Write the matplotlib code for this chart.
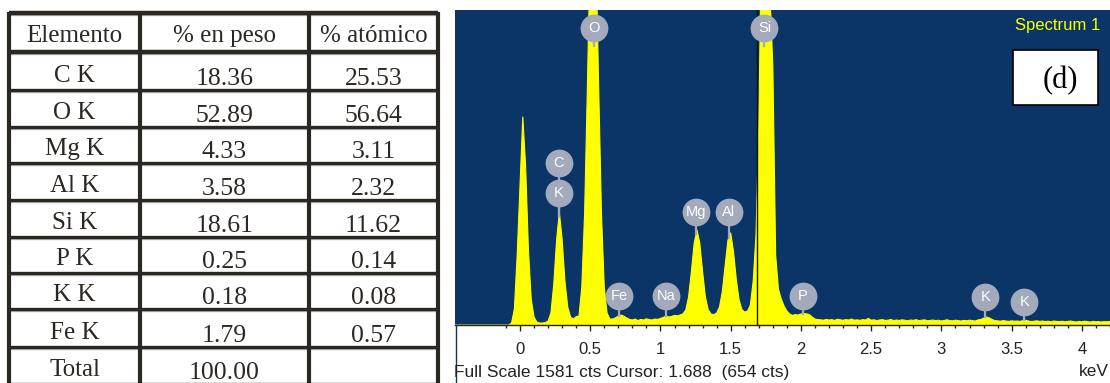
import matplotlib.pyplot as plt
from matplotlib.lines import Line2D
from matplotlib.patches import Rectangle
import numpy as np

plt.rcParams['font.family'] = ['Liberation Sans', 'DejaVu Sans']

# --- tabla de composicion ---
header = ['Elemento', '% en peso', '% atómico']
elements = ['C K', 'O K', 'Mg K', 'Al K', 'Si K', 'P K', 'K K', 'Fe K']
weight_pct = [18.36, 52.89, 4.33, 3.58, 18.61, 0.25, 0.18, 1.79]
atomic_pct = [25.53, 56.64, 3.11, 2.32, 11.62, 0.14, 0.08, 0.57]
total_weight = 100.00

# --- espectro EDS (cuentas por canal, 20 eV/canal desde -0.46 keV) ---
kev_offset = -0.46
kev_per_channel = 0.02
counts = [
    0, 0, 0, 0, 0, 0, 0, 0, 0, 0,
    0, 0, 0, 0, 0, 0, 0, 0, 0, 0,
    10, 80, 350, 700, 1044, 800, 380, 130, 40, 15,
    10, 10, 12, 20, 60, 200, 420, 567, 430, 220,
    90, 40, 30, 42, 45, 190, 560, 1200, 1900, 2200,
    1900, 1200, 560, 190, 60, 30, 30, 36, 45, 50,
    44, 35, 28, 25, 30, 22, 28, 25, 31, 27,
    25, 30, 28, 33, 38, 46, 40, 43, 48, 46,
    50, 56, 75, 140, 267, 411, 477, 411, 267, 140,
    77, 55, 52, 60, 90, 166, 298, 425, 462, 368,
    228, 125, 77, 65, 70, 100, 220, 450, 1000, 2000,
    2500, 2300, 1650, 1300, 350, 180, 130, 95, 70, 55,
    48, 52, 50, 55, 58, 56, 52, 40, 30, 27,
    26, 24, 28, 25, 27, 23, 29, 26, 24, 27,
    25, 30, 24, 26, 23, 27, 25, 33, 24, 26,
    22, 25, 27, 23, 24, 28, 22, 25, 23, 26,
    24, 21, 25, 23, 27, 22, 24, 26, 21, 23,
    25, 22, 24, 20, 23, 26, 22, 21, 24, 22,
    20, 23, 21, 24, 22, 20, 25, 28, 34, 40,
    36, 28, 22, 21, 19, 22, 20, 18, 21, 19,
    20, 18, 22, 24, 20, 17, 19, 21, 18, 20,
    17, 19, 16, 20, 18, 17, 19, 16, 18, 20,
    17, 15, 18, 16, 19, 17, 15, 18, 16, 17,
    15, 17, 16, 18,
]
full_scale = 1581
cursor_kev = 1.688
cursor_cts = 654

# etiquetas de picos: simbolo, energia (keV), altura de la etiqueta (cts)
peak_names = ['C', 'K', 'O', 'Fe', 'Na', 'Mg', 'Al', 'Si', 'P', 'K', 'K']
peak_kev = [0.277, 0.277, 0.525, 0.705, 1.041, 1.254, 1.487, 1.740, 2.013, 3.313, 3.590]
peak_label_cts = [813, 663, 1491, 146, 146, 567, 567, 1491, 146, 141, 115]

major_ticks = [0, 0.5, 1, 1.5, 2, 2.5, 3, 3.5, 4]
major_labels = ['0', '0.5', '1', '1.5', '2', '2.5', '3', '3.5', '4']

navy = '#0a3566'
yellow = '#ffff00'
badge = '#a2aabb'
ink = '#2b2723'

W, H = 1110, 383
fig = plt.figure(figsize=(W / 100, H / 100), dpi=100)

# ---------------- tabla ----------------
ax_t = fig.add_axes([0, 0, 455 / W, 1])
ax_t.set_xlim(0, 455)
ax_t.set_ylim(H, 0)
ax_t.axis('off')

col_edges = [9, 140, 309, 438]
row_edges = [13, 52, 90, 127, 163, 200, 237, 273, 309, 347, 384]

for x in col_edges:
    ax_t.plot([x, x], [row_edges[0] - 1.5, row_edges[-1]], color=ink, lw=3, solid_capstyle='butt')
for i, y in enumerate(row_edges):
    # linea gris clara bajo cada raya horizontal
    ax_t.plot([col_edges[0], col_edges[-1]], [y + 2, y + 2], color='#b8b8b8', lw=1, zorder=1)
    ax_t.plot([col_edges[0], col_edges[-1]], [y, y], color=ink,
              lw=3.2 if i < 2 else 2.4, solid_capstyle='butt', zorder=2)

col_mid = [(col_edges[i] + col_edges[i + 1]) / 2 for i in range(3)]
serif = dict(family='Liberation Serif', color=ink, ha='center', va='baseline')

top, bot = row_edges[0], row_edges[1]
for cx, txt in zip(col_mid, header):
    ax_t.text(cx, top + 0.75 * (bot - top), txt, fontsize=18, **serif)

rows = list(zip(elements, weight_pct, atomic_pct)) + [('Total', total_weight, None)]
for r, (name, wp, ap) in enumerate(rows):
    top, bot = row_edges[r + 1], row_edges[r + 2]
    h = bot - top
    ax_t.text(col_mid[0], top + 0.79 * h, name, fontsize=18, **serif)
    ax_t.text(col_mid[1], top + 0.87 * h, f'{wp:.2f}', fontsize=18.5, **serif)
    if ap is not None:
        ax_t.text(col_mid[2], top + 0.87 * h, f'{ap:.2f}', fontsize=18.5, **serif)

# ---------------- espectro ----------------
energy = kev_offset + kev_per_channel * np.arange(len(counts))
counts = np.array(counts, dtype=float)

ax = fig.add_axes([455 / W, 58 / H, 655 / W, 315 / H])
ax.set_facecolor(navy)
ax.fill_between(energy, counts, 0, color=yellow, lw=0, zorder=2)
ax.plot(energy, counts, color=yellow, lw=0.8, zorder=2)
ax.axvline(cursor_kev, color='#111111', lw=1, zorder=3)

for name, e, ly in zip(peak_names, peak_kev, peak_label_cts):
    tip = min(np.interp(e, energy, counts), ly - 90)
    ax.plot([e, e], [tip, ly], color=badge, lw=1.6, zorder=4)
    ax.plot(e, ly, 'o', ms=19, color=badge, mec=badge, zorder=5)
    ax.text(e, ly, name, color='white', fontsize=10.5, ha='center', va='center', zorder=6)

ax.set_xlim(-0.4626, 4.199)
ax.set_ylim(0, full_scale)
ax.set_yticks([])
ax.set_xticks(major_ticks)
ax.set_xticklabels(major_labels)
ax.set_xticks(np.round(np.arange(-0.1, 4.21, 0.1), 1), minor=True)
ax.tick_params(axis='x', which='major', direction='out', length=4, width=1,
               color='#222222', labelsize=12, labelcolor='#222222', pad=8.5)
ax.tick_params(axis='x', which='minor', direction='out', length=2.5, width=1, color='#222222')
for side in ['top', 'left', 'right']:
    ax.spines[side].set_visible(False)
ax.spines['bottom'].set_color('#222222')
ax.spines['bottom'].set_linewidth(1)

ax.text(0.985, 0.952, 'Spectrum 1', transform=ax.transAxes, color=yellow,
        fontsize=12, ha='right', va='center')
ax.add_patch(Rectangle((0.852, 0.698), 0.130, 0.175, transform=ax.transAxes,
                       facecolor='white', edgecolor='black', lw=1.2, zorder=7))
ax.text(0.925, 0.775, '(d)', transform=ax.transAxes, family='Liberation Serif',
        fontsize=22, ha='center', va='center', zorder=8)

fig.add_artist(Line2D([455.5 / W, 455.5 / W], [0, 58 / H], color=navy, lw=1))
fig.text(454 / W, 11 / H, f'Full Scale {full_scale} cts Cursor: {cursor_kev:.3f}  ({cursor_cts} cts)',
         fontsize=12.5, color='#222222', ha='left', va='center')
fig.text(1109 / W, 11 / H, 'keV', fontsize=12.5, color='#222222', ha='right', va='center')

fig.savefig('out.png', dpi=100)
